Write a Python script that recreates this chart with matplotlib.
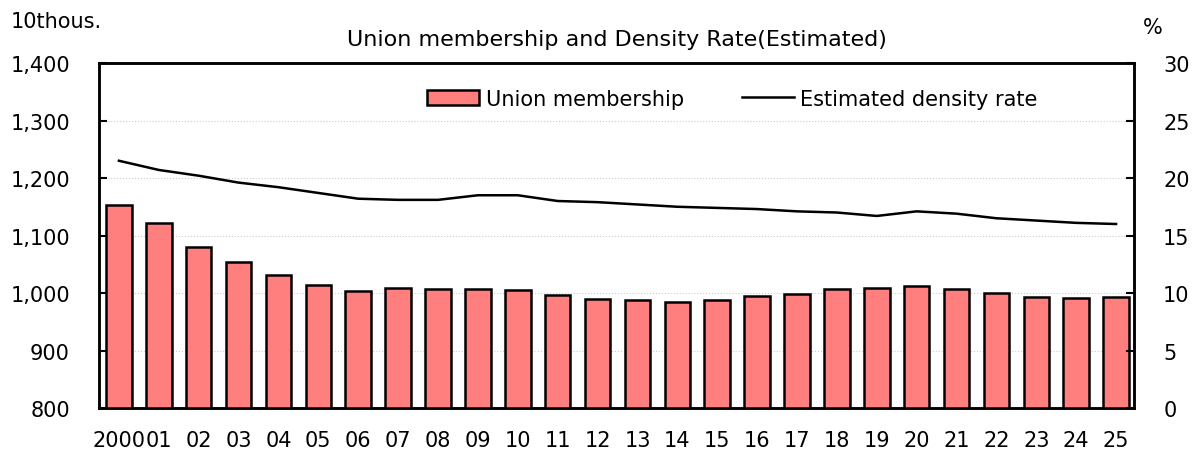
import numpy as np
import matplotlib
matplotlib.use("Agg")
import matplotlib.pyplot as plt

# Data (10 thousand persons, %)
years = ["2000", "01", "02", "03", "04", "05", "06", "07", "08", "09", "10", "11", "12",
         "13", "14", "15", "16", "17", "18", "19", "20", "21", "22", "23", "24", "25"]
membership = [1153.9, 1121.2, 1080.1, 1053.1, 1030.9, 1013.8, 1004.1, 1008.0, 1006.5,
              1007.8, 1005.4, 996.0, 989.2, 987.5, 984.9, 988.2, 994.0, 998.1, 1007.0,
              1008.8, 1011.5, 1007.8, 999.2, 993.8, 991.2, 992.5]
density = [21.5, 20.7, 20.2, 19.6, 19.2, 18.7, 18.2, 18.1, 18.1, 18.5, 18.5, 18.0, 17.9,
           17.7, 17.5, 17.4, 17.3, 17.1, 17.0, 16.7, 17.1, 16.9, 16.5, 16.3, 16.1, 16.0]

plt.rcParams['font.family'] = ['DejaVu Sans']

fig = plt.figure(figsize=(12, 4.52), dpi=100)
ax = fig.add_axes([0.0825, 0.0951, 0.8625, 0.7633])
ax2 = ax.twinx()

x = np.arange(len(years))
bars = ax.bar(x, membership, width=0.64, color='#ff7f7f', edgecolor='black',
              linewidth=1.8, label='Union membership', zorder=3)
line, = ax2.plot(x, density, color='black', linewidth=1.8, label='Estimated density rate')

ax.set_xlim(-0.5, 25.45)
ax.set_ylim(800, 1400)
ax.set_yticks(range(800, 1401, 100))
ax.set_yticklabels([f"{v:,}" for v in range(800, 1401, 100)])
ax.yaxis.grid(True, color='#cccccc', linestyle=':', linewidth=0.8, zorder=0)
ax.set_axisbelow(True)
ax2.set_ylim(0, 30)
ax2.set_yticks(range(0, 31, 5))

ax.set_xticks(x)
ax.set_xticklabels(years)

for a in (ax, ax2):
    for s in a.spines.values():
        s.set_linewidth(1.8)
ax.tick_params(axis='y', direction='in', length=6, width=1.5, pad=21, labelsize=15)
ax2.tick_params(axis='y', direction='in', length=6, width=1.5, pad=21, labelsize=15)
ax.tick_params(axis='x', length=0, pad=16, labelsize=15)

ax.set_title("Union membership and Density Rate(Estimated)", fontsize=16, pad=13)
fig.text(0.009, 0.951, "10thous.", fontsize=15, va='center', ha='left')
fig.text(0.952, 0.938, "%", fontsize=15, va='center', ha='left')

ax.legend([bars, line], ['Union membership', 'Estimated density rate'],
          loc='center', bbox_to_anchor=(0.612, 0.896), ncol=2, frameon=False,
          fontsize=15, handlelength=2.5, handleheight=0.77, handletextpad=0.3,
          columnspacing=2.8)

fig.savefig("out.png", dpi=100)
